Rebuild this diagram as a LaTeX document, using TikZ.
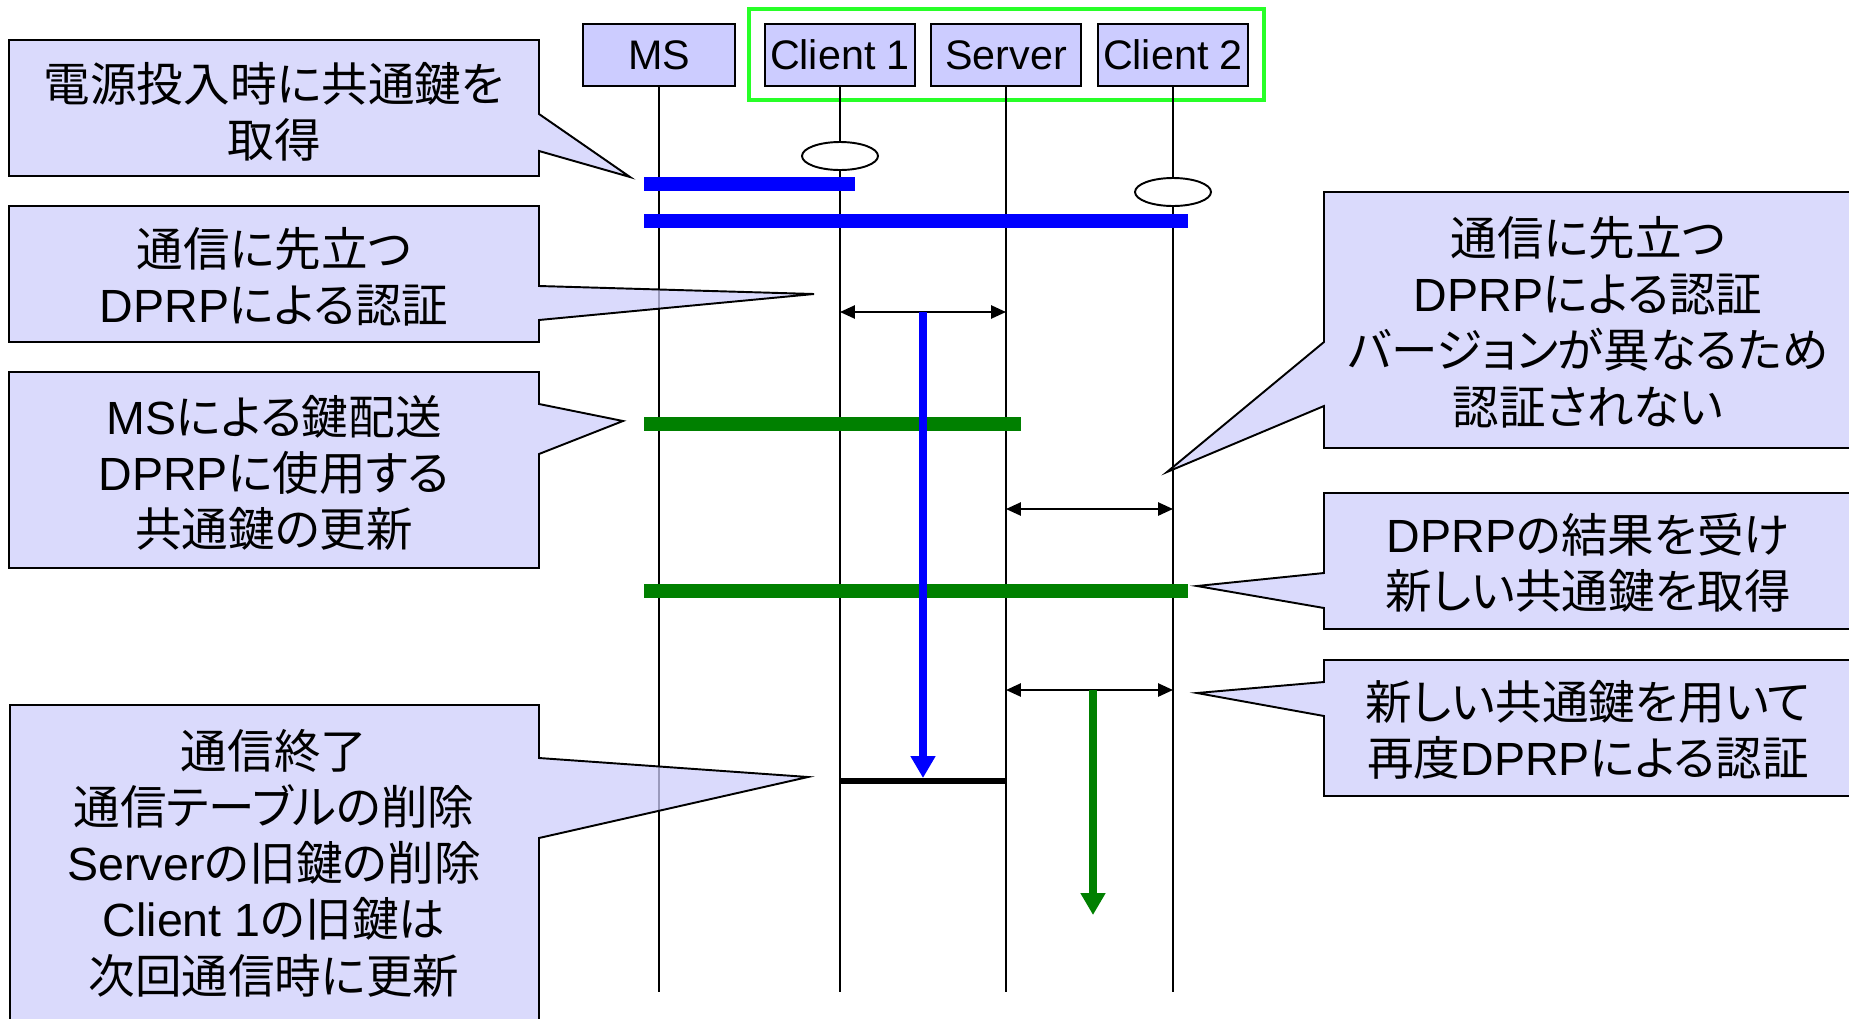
\documentclass[tikz,border=0pt]{standalone}
\usepackage{fontspec}
\setmainfont{Noto Sans CJK JP}[RawFeature=+palt]
\newfontfamily\lat{Liberation Sans}
\usepackage[rgb]{xcolor}
\usepackage{tikz}
\usetikzlibrary{arrows.meta,shapes.geometric}

\definecolor{headblue}{RGB}{204,204,255}
\definecolor{noteblue}{RGB}{206,206,251}
\definecolor{framegreen}{RGB}{40,255,40}
\definecolor{keygreen}{RGB}{0,128,0}

\begin{document}
\begin{tikzpicture}[x=0.02cm, y=-0.02cm,
  head/.style={draw, line width=1.1pt, fill=headblue, minimum width=3cm, minimum height=1.24cm, inner sep=0pt, font=\lat\fontsize{23.5}{28}\selectfont},
  note/.style={draw, line width=1.1pt, fill=noteblue, fill opacity=0.75},
  notetext/.style={align=center, inner sep=0pt, font=\fontsize{26.5}{32}\selectfont},
  life/.style={line width=0.85pt},
  keybar/.style={line width=8.5pt, shorten <=-0.3cm, shorten >=-0.3cm},
  msg/.style={line width=1.1pt, {Triangle[length=8.5pt,width=7.5pt]}-{Triangle[length=8.5pt,width=7.5pt]}},
  flow/.style={line width=4.5pt, -{Triangle[length=12.5pt,width=13.5pt]}},
  start/.style={draw, ellipse, line width=1.1pt, fill=white, minimum width=1.52cm, minimum height=0.56cm, inner sep=0pt}]

\useasboundingbox (0,0) rectangle (1849,1018);

% lifeline heads, the three in the green frame talk DPRP
\path
(659,55) node[head, minimum width=3.04cm] (ms) {MS}
(840,55) node[head] (client1) {Client 1}
(1006,55) node[head] (server) {Server}
(1173,55) node[head] (client2) {Client 2};
\draw[framegreen, line width=2pt] (749,9) rectangle (1264,100);

% lifelines
\foreach \who in {ms, client1, server, client2}
  \draw[life] (\who.south) -- (\who.south |- 0,992);

% power on
\node[start] (c1on) at (client1 |- 0,156) {};
\node[start] (c2on) at (client2 |- 0,192) {};

% key bars (blue = old key, green = new key)
\draw[keybar, blue] (ms |- 0,184) -- (client1 |- 0,184);
\draw[keybar, blue] (ms |- 0,221) -- (client2 |- 0,221);
\draw[keybar, keygreen] (ms |- 0,424) -- (server |- 0,424);
\draw[keybar, keygreen] (ms |- 0,591) -- (client2 |- 0,591);

% DPRP exchanges
\draw[msg] (client1 |- 0,312) -- (server |- 0,312);
\draw[msg] (server |- 0,509) -- (client2 |- 0,509);
\draw[msg] (server |- 0,690) -- (client2 |- 0,690);

% sessions
\coordinate (s1top) at (923,312);
\coordinate (s1end) at (923,778);
\coordinate (s2top) at (1093,690);
\coordinate (s2end) at (1093,915);
\draw[flow, blue] (s1top) -- (s1end);
\draw[flow, keygreen] (s2top) -- (s2end);
\draw[line width=3pt] (client1 |- 0,781) -- (server |- 0,781);

% left notes
\draw[note] (9,40) -- (539,40) -- (539,114) -- (630,177) -- (539,151) -- (539,176) -- (9,176) -- cycle;
\node[notetext] (power) at (274,112) {電源投入時に共通鍵を\\取得};

\draw[note] (9,206) -- (539,206) -- (539,286) -- (814,294) -- (539,320) -- (539,342) -- (9,342) -- cycle;
\node[notetext] (auth1) at (274,277) {通信に先立つ\\{\lat DPRP}による認証};

\draw[note] (9,372) -- (539,372) -- (539,404) -- (623,421) -- (539,454) -- (539,568) -- (9,568) -- cycle;
\node[notetext] (keydist) at (274,473) {{\lat MS}による鍵配送\\{\lat DPRP}に使用する\\共通鍵の更新};

\draw[note] (10,705) -- (539,705) -- (539,758) -- (808,777) -- (539,838) -- (539,1030) -- (10,1030) -- cycle;
\node[notetext] (ending) at (274,863) {通信終了\\通信テーブルの削除\\{\lat Server}の旧鍵の削除\\{\lat Client 1}の旧鍵は\\次回通信時に更新};

% right notes
\draw[note] (1860,192) -- (1324,192) -- (1324,342) -- (1167,472) -- (1324,406) -- (1324,448) -- (1860,448) -- cycle;
\node[notetext] (reject) at (1588,322) {通信に先立つ\\{\lat DPRP}による認証\\バージョンが異なるため\\認証されない};

\draw[note] (1860,493) -- (1324,493) -- (1324,573) -- (1197,586) -- (1324,608) -- (1324,629) -- (1860,629) -- cycle;
\node[notetext] (newkey) at (1588,563) {{\lat DPRP}の結果を受け\\新しい共通鍵を取得};

\draw[note] (1860,660) -- (1324,660) -- (1324,682) -- (1197,693) -- (1324,716) -- (1324,796) -- (1860,796) -- cycle;
\node[notetext] (auth2) at (1588,730) {新しい共通鍵を用いて\\再度{\lat DPRP}による認証};

\end{tikzpicture}
\end{document}
